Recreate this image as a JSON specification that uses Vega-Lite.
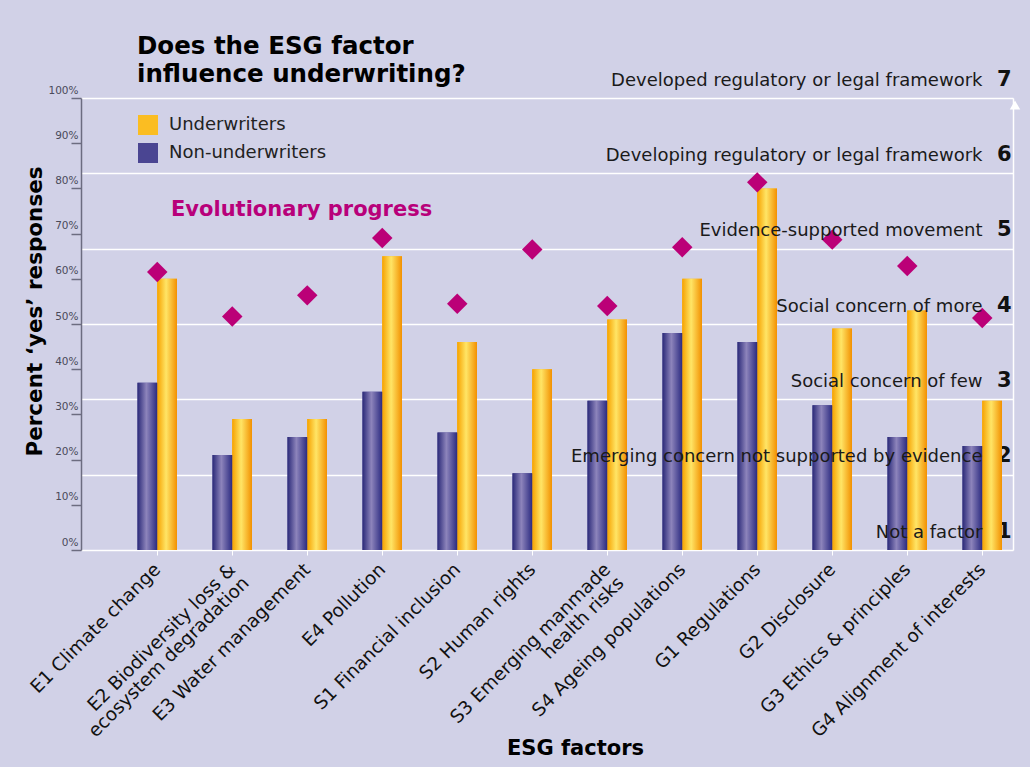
{
  "$schema": "https://vega.github.io/schema/vega-lite/v6.json",
  "width": 932,
  "height": 452,
  "autosize": {"type": "none"},
  "padding": {"left": 81, "top": 98, "right": 17, "bottom": 217},
  "background": "#d1d1e7",
  "title": {
    "text": ["Does the ESG factor", "influence underwriting?"],
    "anchor": "start",
    "frame": "group",
    "dx": 56,
    "dy": 33,
    "offset": 14,
    "font": "DejaVu Sans",
    "fontSize": 24.5,
    "fontWeight": "bold",
    "color": "#000000",
    "lineHeight": 28
  },
  "datasets": {
    "bars": [
      {"factor": "E1 Climate change", "group": "Non-underwriters", "pct": 37},
      {"factor": "E1 Climate change", "group": "Underwriters", "pct": 60},
      {"factor": "E2 Biodiversity loss &|ecosystem degradation", "group": "Non-underwriters", "pct": 21},
      {"factor": "E2 Biodiversity loss &|ecosystem degradation", "group": "Underwriters", "pct": 29},
      {"factor": "E3 Water management", "group": "Non-underwriters", "pct": 25},
      {"factor": "E3 Water management", "group": "Underwriters", "pct": 29},
      {"factor": "E4 Pollution", "group": "Non-underwriters", "pct": 35},
      {"factor": "E4 Pollution", "group": "Underwriters", "pct": 65},
      {"factor": "S1 Financial inclusion", "group": "Non-underwriters", "pct": 26},
      {"factor": "S1 Financial inclusion", "group": "Underwriters", "pct": 46},
      {"factor": "S2 Human rights", "group": "Non-underwriters", "pct": 17},
      {"factor": "S2 Human rights", "group": "Underwriters", "pct": 40},
      {"factor": "S3 Emerging manmade|health risks", "group": "Non-underwriters", "pct": 33},
      {"factor": "S3 Emerging manmade|health risks", "group": "Underwriters", "pct": 51},
      {"factor": "S4 Ageing populations", "group": "Non-underwriters", "pct": 48},
      {"factor": "S4 Ageing populations", "group": "Underwriters", "pct": 60},
      {"factor": "G1 Regulations", "group": "Non-underwriters", "pct": 46},
      {"factor": "G1 Regulations", "group": "Underwriters", "pct": 80},
      {"factor": "G2 Disclosure", "group": "Non-underwriters", "pct": 32},
      {"factor": "G2 Disclosure", "group": "Underwriters", "pct": 49},
      {"factor": "G3 Ethics & principles", "group": "Non-underwriters", "pct": 25},
      {"factor": "G3 Ethics & principles", "group": "Underwriters", "pct": 53},
      {"factor": "G4 Alignment of interests", "group": "Non-underwriters", "pct": 23},
      {"factor": "G4 Alignment of interests", "group": "Underwriters", "pct": 33}
    ],
    "progress": [
      {"factor": "E1 Climate change", "level": 4.69},
      {"factor": "E2 Biodiversity loss &|ecosystem degradation", "level": 4.1},
      {"factor": "E3 Water management", "level": 4.38},
      {"factor": "E4 Pollution", "level": 5.14},
      {"factor": "S1 Financial inclusion", "level": 4.27},
      {"factor": "S2 Human rights", "level": 4.99},
      {"factor": "S3 Emerging manmade|health risks", "level": 4.24},
      {"factor": "S4 Ageing populations", "level": 5.02},
      {"factor": "G1 Regulations", "level": 5.88},
      {"factor": "G2 Disclosure", "level": 5.12},
      {"factor": "G3 Ethics & principles", "level": 4.77},
      {"factor": "G4 Alignment of interests", "level": 4.08}
    ],
    "top": [{"level": 7}]
  },
  "layer": [
    {
      "data": {"name": "bars"},
      "mark": {"type": "bar"},
      "encoding": {
        "x": {
          "field": "factor",
          "type": "nominal",
          "sort": null,
          "scale": {"paddingInner": 0.4733, "paddingOuter": 0.45, "align": 0.837},
          "axis": {
            "title": "ESG factors",
            "titleFont": "DejaVu Sans",
            "titleFontSize": 21,
            "titleFontWeight": "bold",
            "titleColor": "#000000",
            "titleX": 494,
            "titleY": 198,
            "titleBaseline": "middle",
            "labelAngle": -45,
            "labelAlign": "right",
            "labelBaseline": "middle",
            "labelFont": "DejaVu Sans",
            "labelFontSize": 18.5,
            "labelLineHeight": 19,
            "labelColor": "#111111",
            "labelPadding": 11,
            "labelLimit": 500,
            "labelOverlap": false,
            "labelExpr": "split(datum.value, '|')",
            "ticks": true,
            "tickColor": "#ffffff",
            "tickSize": 5,
            "domain": false,
            "grid": false
          }
        },
        "xOffset": {
          "field": "group",
          "type": "nominal",
          "sort": ["Non-underwriters", "Underwriters"],
          "scale": {"paddingInner": 0, "paddingOuter": 0}
        },
        "y": {
          "field": "pct",
          "type": "quantitative",
          "scale": {"domain": [0, 100], "nice": false},
          "axis": {
            "orient": "left",
            "title": "Percent ‘yes’ responses",
            "titleFont": "DejaVu Sans",
            "titleFontSize": 21.5,
            "titleFontWeight": "bold",
            "titleColor": "#000000",
            "titleX": -46,
            "titleY": 213,
            "titleBaseline": "middle",
            "titleAlign": "center",
            "values": [0, 10, 20, 30, 40, 50, 60, 70, 80, 90, 100],
            "labelExpr": "datum.value + '%'",
            "labelFont": "DejaVu Sans",
            "labelFontSize": 10.5,
            "labelColor": "#4a4a5a",
            "labelAlign": "right",
            "labelBaseline": "alphabetic",
            "labelOffset": -5,
            "labelPadding": -7,
            "labelOverlap": false,
            "tickSize": 10,
            "tickColor": "#6c6c80",
            "tickWidth": 1.5,
            "domainColor": "#6c6c80",
            "domainWidth": 1.5,
            "grid": false
          }
        },
        "color": {
          "field": "group",
          "type": "nominal",
          "scale": {
            "domain": ["Underwriters", "Non-underwriters"],
            "range": ["#fbbd22", "#4a4592"]
          },
          "legend": {
            "title": null,
            "orient": "none",
            "legendX": 57,
            "legendY": 17,
            "padding": 0,
            "symbolType": "square",
            "symbolSize": 400,
            "symbolStrokeWidth": 0,
            "labelFont": "DejaVu Sans",
            "labelFontSize": 18,
            "labelColor": "#222222",
            "labelOffset": 11,
            "rowPadding": 8
          }
        }
      }
    },
    {
      "data": {"name": "bars"},
      "transform": [{"filter": "datum.group === 'Underwriters'"}],
      "mark": {
        "type": "bar",
        "color": {"gradient": "linear", "x1": 0, "y1": 0, "x2": 1, "y2": 0, "stops": [{"offset": 0, "color": "#f6a200"}, {"offset": 0.45, "color": "#ffe566"}, {"offset": 1, "color": "#f29000"}]}
      },
      "encoding": {
        "x": {"field": "factor", "type": "nominal", "sort": null},
        "xOffset": {"field": "group", "type": "nominal", "sort": ["Non-underwriters", "Underwriters"]},
        "y": {"field": "pct", "type": "quantitative", "scale": {"domain": [0, 100], "nice": false}, "axis": null}
      }
    },
    {
      "data": {"name": "bars"},
      "transform": [{"filter": "datum.group === 'Non-underwriters'"}],
      "mark": {
        "type": "bar",
        "color": {"gradient": "linear", "x1": 0, "y1": 0, "x2": 1, "y2": 0, "stops": [{"offset": 0, "color": "#2a2978"}, {"offset": 0.45, "color": "#8d84bb"}, {"offset": 1, "color": "#2b2a80"}]}
      },
      "encoding": {
        "x": {"field": "factor", "type": "nominal", "sort": null},
        "xOffset": {"field": "group", "type": "nominal", "sort": ["Non-underwriters", "Underwriters"]},
        "y": {"field": "pct", "type": "quantitative", "scale": {"domain": [0, 100], "nice": false}, "axis": null}
      }
    },
    {
      "data": {"name": "progress"},
      "mark": {"type": "point", "filled": true, "color": "#bb0077", "opacity": 1, "size": 420},
      "encoding": {
        "x": {"field": "factor", "type": "nominal", "sort": null},
        "y": {
          "field": "level",
          "type": "quantitative",
          "scale": {"domain": [1, 7], "nice": false, "zero": false},
          "axis": {
            "orient": "right",
            "title": null,
            "values": [1, 2, 3, 4, 5, 6, 7],
            "labelExpr": "['Not a factor', 'Emerging concern not supported by evidence', 'Social concern of few', 'Social concern of more', 'Evidence-supported movement', 'Developing regulatory or legal framework', 'Developed regulatory or legal framework'][datum.value - 1]",
            "labelFont": "DejaVu Sans",
            "labelFontSize": 18,
            "labelColor": "#1a1a1a",
            "labelAlign": "right",
            "labelBaseline": "alphabetic",
            "labelOffset": -13,
            "labelPadding": -31,
            "labelLimit": 700,
            "labelOverlap": false,
            "ticks": false,
            "tickSize": 0,
            "domain": true,
            "domainColor": "#ffffff",
            "domainWidth": 1.5,
            "grid": false,
            "zindex": 1
          }
        },
        "shape": {
          "datum": "Evolutionary progress",
          "type": "nominal",
          "scale": {"range": ["diamond"]},
          "legend": {
            "title": null,
            "orient": "none",
            "legendX": 57,
            "legendY": 101,
            "padding": 0,
            "symbolSize": 400,
            "symbolOpacity": 0,
            "labelFont": "DejaVu Sans",
            "labelFontSize": 21,
            "labelFontWeight": "bold",
            "labelColor": "#b8007a",
            "labelOffset": 11,
            "labelLimit": 500
          }
        }
      }
    },
    {
      "data": {"name": "top"},
      "mark": {"type": "point", "shape": "triangle-up", "filled": true, "color": "#ffffff", "opacity": 1, "size": 110, "yOffset": 7, "xOffset": 2},
      "encoding": {
        "x": {"value": "width"},
        "y": {
          "field": "level",
          "type": "quantitative",
          "scale": {"domain": [1, 7], "nice": false, "zero": false},
          "axis": {
            "orient": "right",
            "title": null,
            "values": [1, 2, 3, 4, 5, 6, 7],
            "format": "d",
            "labelFont": "DejaVu Sans",
            "labelFontSize": 21,
            "labelFontWeight": "bold",
            "labelColor": "#111111",
            "labelAlign": "right",
            "labelBaseline": "alphabetic",
            "labelOffset": -13,
            "labelPadding": -2,
            "labelOverlap": false,
            "ticks": false,
            "tickSize": 0,
            "domain": false,
            "grid": true,
            "gridColor": "#ffffff",
            "gridWidth": 1.5,
            "gridOpacity": 1,
            "zindex": 0
          }
        }
      }
    }
  ],
  "resolve": {"scale": {"y": "independent"}, "axis": {"y": "independent"}},
  "config": {"view": {"stroke": null}}
}
